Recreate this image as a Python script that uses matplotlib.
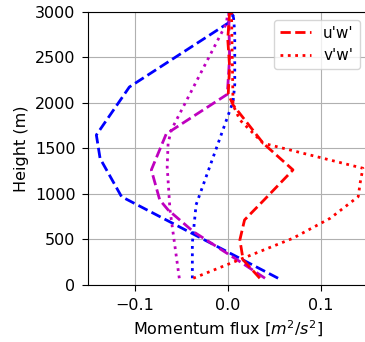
import numpy as np
import matplotlib
matplotlib.use('Agg')
import matplotlib.pyplot as plt

plt.rcParams['font.size'] = 11.5
plt.rcParams['xtick.major.size'] = 4.5
plt.rcParams['ytick.major.size'] = 4.5
plt.rcParams['xtick.major.pad'] = 5
plt.rcParams['ytick.major.pad'] = 4.5

# run 1 (blue)
z_b_uw = [73, 970, 1390, 1648, 2175, 2875, 2955, 3000]
b_uw = [0.054, -0.114, -0.137, -0.141, -0.1056, 0.0, 0.006, 0.003]
z_b_vw = [73, 462, 880, 2015, 2200, 2770, 3000]
b_vw = [-0.038, -0.038, -0.034, 0.0057, 0.0075, 0.0075, 0.0057]

# run 2 (magenta)
z_m_uw = [73, 256, 586, 824, 934, 1264, 1660, 2095, 2500, 3000]
m_uw = [0.040, 0.013, -0.037, -0.064, -0.073, -0.082, -0.066, -0.0005, 0.002, 0.001]
z_m_vw = [73, 824, 1300, 1557, 1703, 2875, 3000]
m_vw = [-0.052, -0.062, -0.065, -0.064, -0.0606, -0.0014, 0.0]

# run 3 (red)
z_r_uw = [73, 275, 495, 714, 934, 1264, 1557, 1978, 2100, 2400, 2700, 3000]
r_uw = [0.0344, 0.0165, 0.013, 0.018, 0.039, 0.070, 0.038, 0.0057, 0.0005, 0.002, 0.0, 0.002]
z_r_vw = [73, 293, 513, 733, 970, 1117, 1282, 1557, 1813, 1978, 3000]
r_vw = [-0.037, 0.0165, 0.070, 0.110, 0.140, 0.142, 0.145, 0.038, 0.013, 0.0057, 0.004]

fig = plt.figure(figsize=(3.65, 3.42), dpi=100)
ax = fig.add_axes([0.241, 0.167, 0.766, 0.798])

ax.plot(b_uw, z_b_uw, 'b--', lw=2)
ax.plot(b_vw, z_b_vw, 'b:', lw=2)
ax.plot(m_uw, z_m_uw, 'm--', lw=2)
ax.plot(m_vw, z_m_vw, 'm:', lw=2)
ax.plot(r_uw, z_r_uw, 'r--', lw=2, label="u'w'")
ax.plot(r_vw, z_r_vw, 'r:', lw=2, label="v'w'")

ax.set_xlim(-0.15, 0.15)
ax.set_ylim(0, 3000)
ax.set_xticks([-0.1, 0.0, 0.1])
ax.set_yticks(np.arange(0, 3001, 500))
ax.grid(True)
ax.set_xlabel('Momentum flux [$m^2/s^2$]')
ax.set_ylabel('Height (m)')
ax.legend(loc='upper right', fontsize=11)

fig.savefig('out.png', dpi=100)
